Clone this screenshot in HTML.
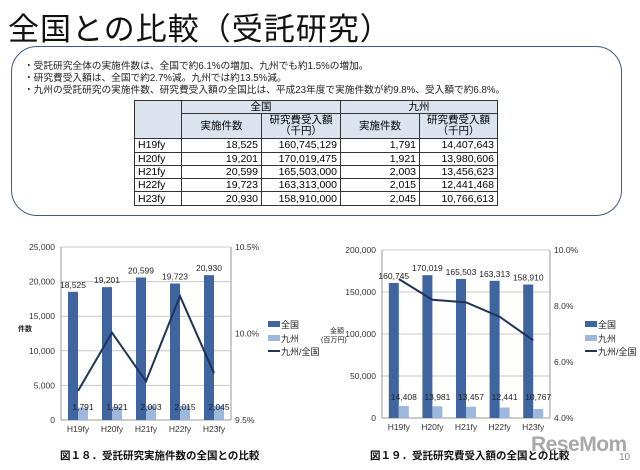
<!DOCTYPE html>
<html><head><meta charset="utf-8">
<style>
body{margin:0;width:640px;height:470px;background:#fff;position:relative;overflow:hidden;font-family:"Liberation Sans","Noto Sans CJK JP",sans-serif;}
.abs{position:absolute;}
#title{left:8px;top:4px;font-size:31px;color:#111;white-space:nowrap;letter-spacing:1px;}
#box{left:11px;top:46px;width:611px;height:170px;border:1.5px solid #3d5a88;border-radius:26px;box-sizing:border-box;}
.bul{left:24px;font-size:9.7px;color:#222;white-space:nowrap;}
table{position:absolute;left:134px;top:100px;border-collapse:collapse;font-size:10.5px;}
td{border:1px solid #333;padding:0 3px;height:12.3px;line-height:12px;text-align:right;}
td.h{background:#dbe3ef;text-align:center;}
td.l{text-align:left;}
svg text{font-family:"Liberation Sans","Noto Sans CJK JP",sans-serif;}
</style></head><body>
<div class="abs" id="title">全国との比較（受託研究）</div>
<div class="abs" id="box"></div>
<div class="abs bul" style="top:58px">・受託研究全体の実施件数は、全国で約6.1%の増加、九州でも約1.5%の増加。</div>
<div class="abs bul" style="top:70px">・研究費受入額は、全国で約2.7%減。九州では約13.5%減。</div>
<div class="abs bul" style="top:82px">・九州の受託研究の実施件数、研究費受入額の全国比は、平成23年度で実施件数が約9.8%、受入額で約6.8%。</div>
<table>
<tr><td class="h" rowspan="2" style="width:40px"></td><td class="h" colspan="2">全国</td><td class="h" colspan="2">九州</td></tr>
<tr><td class="h" style="width:73px;height:24px">実施件数</td><td class="h" style="width:72px;line-height:11px">研究費受入額<br>（千円）</td><td class="h" style="width:72px">実施件数</td><td class="h" style="width:71px;line-height:11px">研究費受入額<br>（千円）</td></tr>
<tr><td class="l">H19fy</td><td>18,525</td><td>160,745,129</td><td>1,791</td><td>14,407,643</td></tr>
<tr><td class="l">H20fy</td><td>19,201</td><td>170,019,475</td><td>1,921</td><td>13,980,606</td></tr>
<tr><td class="l">H21fy</td><td>20,599</td><td>165,503,000</td><td>2,003</td><td>13,456,623</td></tr>
<tr><td class="l">H22fy</td><td>19,723</td><td>163,313,000</td><td>2,015</td><td>12,441,468</td></tr>
<tr><td class="l">H23fy</td><td>20,930</td><td>158,910,000</td><td>2,045</td><td>10,766,613</td></tr>
</table>
<svg class="abs" style="left:0;top:0" width="640" height="470" id="charts"></svg>
<div class="abs" style="left:531px;top:433px;font-size:21px;font-weight:bold;color:#999;opacity:0.85;letter-spacing:-0.5px">ReseMom</div>
<div class="abs" style="left:619px;top:452px;font-size:10px;color:#888">10</div>
<script>
const categories=["H19fy","H20fy","H21fy","H22fy","H23fy"];
const countNational=[18525,19201,20599,19723,20930];
const countKyushu=[1791,1921,2003,2015,2045];
const amountNational=[160745,170019,165503,163313,158910];
const amountKyushu=[14408,13981,13457,12441,10767];
const leftTicks1=[0,5000,10000,15000,20000,25000];
const rightTicks1=[9.5,10.0,10.5];
const leftTicks2=[0,50000,100000,150000,200000];
const rightTicks2=[4,6,8,10];
const NS="http://www.w3.org/2000/svg";
const svg=document.getElementById('charts');
function mk(t,a,txt){const e=document.createElementNS(NS,t);for(const k in a)e.setAttribute(k,a[k]);if(txt!==undefined)e.textContent=txt;svg.appendChild(e);return e;}
const fmt=v=>v.toLocaleString('en-US');
function chart(o){
 const {x0,x1,y0,y1,lmax,rmin,rmax,lt,rt,nat,kyu,id}=o;
 const ly=v=>y1-(v/lmax)*(y1-y0);
 const ry=v=>y1-(v-rmin)/(rmax-rmin)*(y1-y0);
 const cw=(x1-x0)/categories.length;
 lt.forEach(t=>{const g=mk('line',{x1:x0,x2:x1,y1:ly(t),y2:ly(t),stroke:'#c8c8c8','stroke-width':1});
  
  const tx=mk('text',{x:x0-6,y:ly(t)+3,'font-size':8.5,'text-anchor':'end',fill:'#333'},fmt(t));
  });
 rt.forEach(t=>{const tx=mk('text',{x:x1+4,y:ry(t)+3,'font-size':8.5,fill:'#333'},t.toFixed(1)+'%');
  });
 mk('line',{x1:x0,x2:x0,y1:y0,y2:y1,stroke:'#999'});
 mk('line',{x1:x1,x2:x1,y1:y0,y2:y1,stroke:'#999'});
 mk('line',{x1:x0,x2:x1,y1:y1,y2:y1,stroke:'#999'});
 const pts=[];
 categories.forEach((c,i)=>{
  const cx=x0+cw*(i+0.5);
  const b1=mk('rect',{x:cx-10,y:ly(nat[i]),width:10,height:y1-ly(nat[i]),fill:'#3f65a0'});
  
  const b2=mk('rect',{x:cx,y:ly(kyu[i]),width:10,height:y1-ly(kyu[i]),fill:'#9db7dd'});
  
  const l1=mk('text',{x:cx-5,y:ly(nat[i])-4,'font-size':8.5,'text-anchor':'middle',fill:'#222'},fmt(nat[i]));
  
  const l2=mk('text',{x:cx+5,y:y1-10-(o.klab||0),'font-size':8.5,'text-anchor':'middle',fill:'#222'},fmt(kyu[i]));
  
  const xl=mk('text',{x:cx,y:y1+12,'font-size':8.5,'text-anchor':'middle',fill:'#333'},c);
  
  pts.push(cx+','+ry(kyu[i]/nat[i]*100));
 });
 const pl=mk('polyline',{points:pts.join(' '),fill:'none',stroke:'#1f3358','stroke-width':2});
 
 const lx=o.lx;
 mk('rect',{x:lx,y:321,width:12,height:6,fill:'#3f65a0'});
 mk('text',{x:lx+13,y:328,'font-size':9,fill:'#222'},'全国');
 mk('rect',{x:lx,y:335,width:12,height:6,fill:'#9db7dd'});
 mk('text',{x:lx+13,y:342,'font-size':9,fill:'#222'},'九州');
 mk('line',{x1:lx,x2:lx+12,y1:351,y2:351,stroke:'#1f3358','stroke-width':2});
 mk('text',{x:lx+13,y:355,'font-size':9,fill:'#222'},'九州/全国');
}
chart({id:'chart18',x0:61,x1:231,y0:247,y1:420,lmax:25000,rmin:9.5,rmax:10.5,lt:leftTicks1,rt:rightTicks1,nat:countNational,kyu:countKyushu,lx:268});
chart({id:'chart19',x0:382,x1:550,y0:250,y1:418,lmax:200000,rmin:4,rmax:10,lt:leftTicks2,rt:rightTicks2,nat:amountNational,kyu:amountKyushu,lx:585,klab:8});
mk('text',{x:18,y:331,'font-size':7,'font-weight':'bold',fill:'#222'},'件数');
mk('text',{x:330,y:333,'font-size':7,fill:'#222'},'金額');
mk('text',{x:321,y:342,'font-size':7,fill:'#222'},'(百万円)');
const c1=mk('text',{x:60,y:459,'font-size':10.5,'font-weight':'bold',fill:'#111'},'図１８．受託研究実施件数の全国との比較');

const c2=mk('text',{x:370,y:459,'font-size':10.5,'font-weight':'bold',fill:'#111'},'図１９．受託研究費受入額の全国との比較');

</script>
</body></html>
